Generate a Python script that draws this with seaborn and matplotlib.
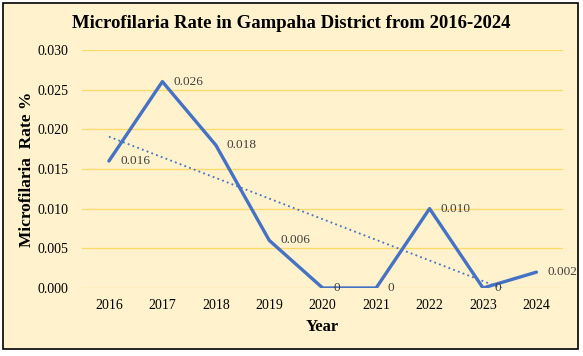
import matplotlib
matplotlib.use("Agg")
import matplotlib.pyplot as plt
import seaborn as sns
import pandas as pd
from matplotlib.patches import Rectangle

# data
years = [2016, 2017, 2018, 2019, 2020, 2021, 2022, 2023, 2024]
rates = [0.016, 0.026, 0.018, 0.006, 0.0, 0.0, 0.010, 0.0, 0.002]
point_labels = ["0.016", "0.026", "0.018", "0.006", "0", "0", "0.010", "0", "0.002"]
y_ticks = [0.000, 0.005, 0.010, 0.015, 0.020, 0.025, 0.030]

df = pd.DataFrame({"Year": years, "Rate": rates})

sns.set_theme(style="white", rc={"text.color": "black", "axes.labelcolor": "black"})
plt.rcParams['font.family'] = ['Liberation Serif', 'DejaVu Serif']

bg = "#FFF2CC"
line_col = "#4472C4"

fig = plt.figure(figsize=(5.83, 3.56), dpi=100)
fig.patch.set_facecolor("white")
# chart frame, kept behind the axes
frame = Rectangle((3 / 583, 1 - 349 / 356), 575 / 583, 346 / 356,
                  transform=fig.transFigure, facecolor=bg,
                  edgecolor="black", linewidth=1.2, zorder=-5)
fig.patches.append(frame)

ax = fig.add_axes([0.141, 0.191, 0.825, 0.669])
ax.set_facecolor("none")
ax.set_zorder(2)

for t in y_ticks:
    ax.axhline(t, color="#FFD966", linewidth=0.9, zorder=0)

# dotted linear trend
sns.regplot(data=df, x="Year", y="Rate", ax=ax, scatter=False, ci=None,
            line_kws=dict(color=line_col, linestyle=(0, (1, 1.8)), linewidth=1.3))

sns.lineplot(data=df, x="Year", y="Rate", ax=ax, color=line_col, linewidth=2.4)

for yr, v, lab in zip(years, rates, point_labels):
    ax.annotate(lab, (yr, v), xytext=(8, 0), textcoords="offset points",
                ha="left", va="center", fontsize=9.5, color="#404040")

ax.set_xlim(2015.5, 2024.5)
ax.set_ylim(0, 0.030)
ax.set_xticks(years)
ax.set_xticklabels([str(y) for y in years])
ax.set_yticks(y_ticks)
ax.set_yticklabels([f"{t:.3f}" for t in y_ticks])
ax.tick_params(axis="both", length=0, labelsize=10, colors="black")
ax.tick_params(axis="x", pad=8)
ax.tick_params(axis="y", pad=10)
for s in ax.spines.values():
    s.set_visible(False)

ax.set_xlabel("Year", fontsize=12, fontweight="bold", labelpad=5)
ax.set_ylabel("Microfilaria  Rate %", fontsize=12.5, fontweight="bold", labelpad=2)
fig.text(0.5, 1 - 24 / 356, "Microfilaria Rate in Gampaha District from 2016-2024",
         ha="center", va="center", fontsize=13.5, fontweight="bold", color="black")

fig.savefig("out.png", dpi=100)
